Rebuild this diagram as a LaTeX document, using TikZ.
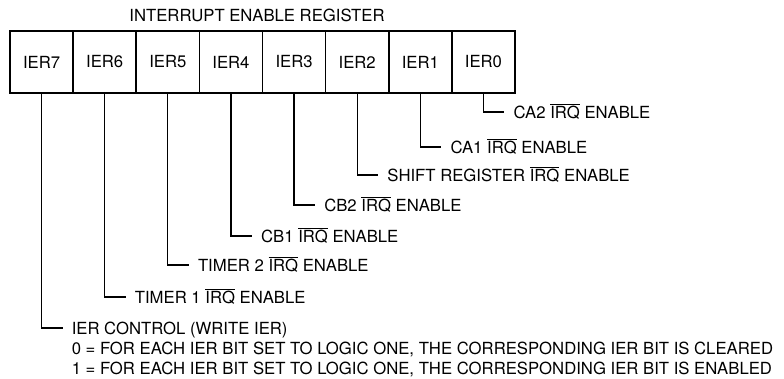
\documentclass[tikz,border=0pt]{standalone}
\usepackage{fontspec}
\setmainfont{TeX Gyre Heros}
\usetikzlibrary{positioning}

\tikzstyle{cell}=[draw, line width=1.6pt, minimum width=63.125pt, minimum height=62pt, inner sep=0pt]
\tikzstyle{lead}=[draw, line width=1.3pt, -]
\tikzstyle{caption}=[anchor=west, inner xsep=9pt, inner ysep=4pt, text height=12pt, text depth=0pt]

\newcommand{\ovbar}[1]{$\overline{\mbox{#1}}$}

\begin{document}
\begin{tikzpicture}[x=1pt, y=-1pt, font=\fontsize{16.7}{20}\selectfont]
		\useasboundingbox (0,0) rectangle (784,378);
		\foreach \n in {0,...,7}
			\node[cell] (c\n) at ({41.5625+63.125*(7-\n)}, 62) {IER\n};
		\node (title) at (257,15) {INTERRUPT ENABLE REGISTER};
		\foreach \n/\y/\txt in {0/112/CA2 \ovbar{IRQ} ENABLE, 1/147/CA1 \ovbar{IRQ} ENABLE, 2/175/SHIFT REGISTER \ovbar{IRQ} ENABLE, 3/205/CB2 \ovbar{IRQ} ENABLE, 4/236/CB1 \ovbar{IRQ} ENABLE, 5/265/TIMER 2 \ovbar{IRQ} ENABLE, 6/297/TIMER 1 \ovbar{IRQ} ENABLE, 7/328/IER CONTROL (WRITE IER)}
		{
			\node[caption] (l\n) at ({62.5625+63.125*(7-\n)}, \y) {\txt};
			\path[lead] (c\n.south) |- (l\n.west);
		}
		\node[caption, anchor=north west] (z0) at (l7.south west) {0 = FOR EACH IER BIT SET TO LOGIC ONE, THE CORRESPONDING IER BIT IS CLEARED};
		\node[caption, anchor=north west] (z1) at (z0.south west) {1 = FOR EACH IER BIT SET TO LOGIC ONE, THE CORRESPONDING IER BIT IS ENABLED};
	\end{tikzpicture}
\end{document}
